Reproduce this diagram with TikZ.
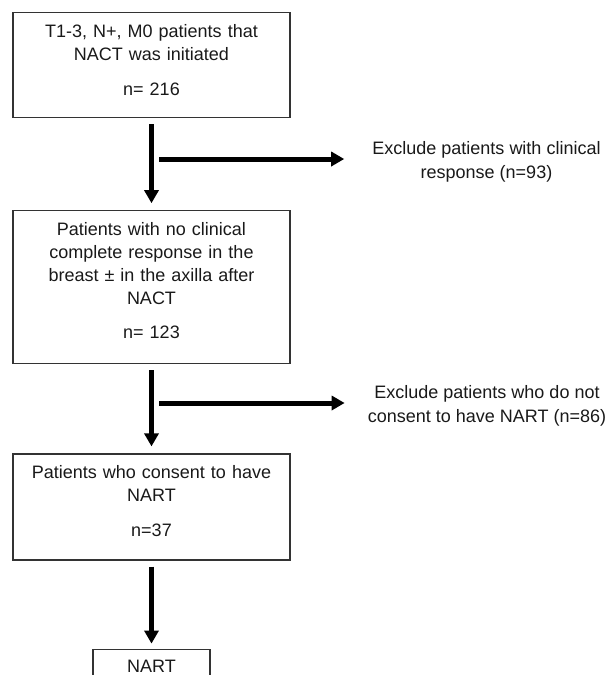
\documentclass[tikz,border=0pt]{standalone}
\usepackage{fontspec}
\setmainfont{Liberation Sans}
\usetikzlibrary{arrows.meta,positioning}

\tikzset{
  stage/.style={draw=black!80, line width=1.2pt, align=center, text=black!90,
    text width=251pt, inner xsep=13pt, inner ysep=0pt, text height=24.5pt,
    font=\fontsize{18}{23}\selectfont},
  note/.style={align=center, text=black!90, inner sep=0pt,
    font=\fontsize{18}{23.5}\selectfont},
  flow/.style={line width=5pt, -{Triangle[width=14pt,length=13pt]}}
}

\begin{document}
\begin{tikzpicture}[x=1pt,y=1pt]
\useasboundingbox (0,0) rectangle (612,-675);

% main stream
\node[stage, text depth=80.5pt, anchor=north] (start) at (151.5,-12)
  {T1-3, N+, M0 patients that\\ NACT was initiated\\[12pt] n= 216};
\node[stage, text depth=128.5pt, below=92pt of start] (nocr)
  {Patients with no clinical\\ complete response in the\\ breast \textpm{} in the axilla after\\ NACT\\[11pt] n= 123};
\node[stage, text depth=81.5pt, below=89pt of nocr] (consent)
  {Patients who consent to have\\ NART\\[12pt] n=37};
\node[stage, text width=91pt, text height=23.5pt, text depth=7.5pt, below=88pt of consent] (nart)
  {NART};

% exclusions
\node[note] (excl1) at (486.5,-162) {Exclude patients with clinical\\ response (n=93)};
\node[note] (excl2) at (487,-406) {Exclude patients who do not\\ consent to have NART (n=86)};

\coordinate (fork1) at (159,-159);
\coordinate (fork2) at (159,-403);

\draw[flow, shorten <=6pt, shorten >=7pt] (start) -- (nocr);
\draw[flow, shorten <=6pt, shorten >=7pt] (nocr) -- (consent);
\draw[flow, shorten <=6pt, shorten >=5pt] (consent) -- (nart);

\draw[flow, shorten >=28pt] (fork1) -- (fork1 -| excl1.west);
\draw[flow, shorten >=23pt] (fork2) -- (fork2 -| excl2.west);

\end{tikzpicture}
\end{document}
